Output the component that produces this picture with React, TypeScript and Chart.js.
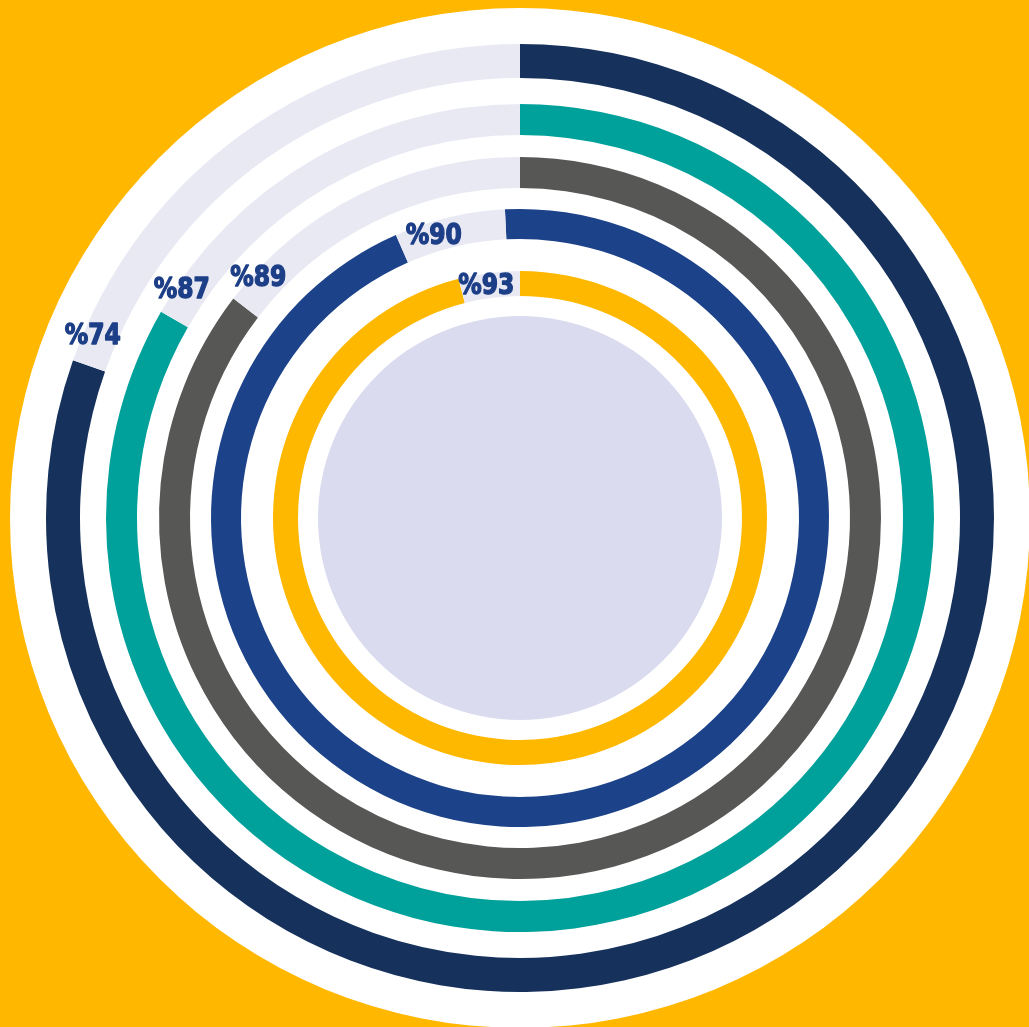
import React, { useEffect, useRef } from "react";
import { Chart, registerables } from "chart.js";

Chart.register(...registerables);

// Ring data (outer → inner)
const ringNames = ["Ring A", "Ring B", "Ring C", "Ring D", "Ring E"];
const labelPercents = [74, 87, 89, 90, 93];
// share of the circle actually filled by each arc, as drawn in the picture
const arcShare = [80.4, 83.3, 85.4, 94.2, 96.0];
// start angle of each arc in degrees (clockwise from 12 o'clock)
const arcStart = [0, 0, 0, -2.8, 0];
const ringColors = ["#16325C", "#00A19A", "#575756", "#1C428A", "#FFB800"];

const TRACK = "#E9E9F4";
const CENTER = "#DADBEF";
const BG = "#FFB700";
const LABEL_COLOR = "#1D3F87";

// ring thickness weights (px) outer → inner: margin, ring, gap, ring, ... , gap, center
const ringWeights = [34, 31, 31, 30, 25];
const gapWeights = [36, 26, 22, 21, 32, 20];
const centerWeight = 202;
const labelRadialNudge = [7, 9, 9, 0, -1];
const labelAlongNudge = [0, 0, 2, 6, -3];

export default function App() {
  const ref = useRef<HTMLCanvasElement | null>(null);

  useEffect(() => {
    if (!ref.current) return;
    const datasets: any[] = [];
    const ringIndex: number[] = [];
    for (let i = 0; i < ringNames.length; i++) {
      datasets.push({
        label: "gap" + i,
        data: [1],
        backgroundColor: ["rgba(0,0,0,0)"],
        borderWidth: 0,
        weight: gapWeights[i],
      });
      ringIndex.push(datasets.length);
      datasets.push({
        label: ringNames[i],
        data: [arcShare[i], 100 - arcShare[i]],
        backgroundColor: [ringColors[i], TRACK],
        borderWidth: 0,
        weight: ringWeights[i],
        rotation: arcStart[i],
      });
    }
    datasets.push({
      label: "gap-last",
      data: [1],
      backgroundColor: ["rgba(0,0,0,0)"],
      borderWidth: 0,
      weight: gapWeights[5],
    });
    datasets.push({
      label: "center",
      data: [1],
      backgroundColor: [CENTER],
      borderWidth: 0,
      weight: centerWeight,
    });

    const bgPlugin = {
      id: "whiteDisc",
      beforeDatasetsDraw(chart: any) {
        const arc = chart.getDatasetMeta(0).data[0];
        if (!arc) return;
        const ctx = chart.ctx;
        ctx.save();
        ctx.beginPath();
        ctx.arc(arc.x, arc.y, arc.outerRadius, 0, Math.PI * 2);
        ctx.fillStyle = "#FFFFFF";
        ctx.fill();
        ctx.restore();
      },
    };

    const labelPlugin = {
      id: "ringLabels",
      afterDatasetsDraw(chart: any) {
        const ctx = chart.ctx;
        ringIndex.forEach((di, i) => {
          const arc = chart.getDatasetMeta(di).data[0];
          if (!arc) return;
          ctx.save();
          ctx.font = "bold 28px 'DejaVu Sans Condensed', 'DejaVu Sans', sans-serif";
          ctx.fillStyle = LABEL_COLOR;
          ctx.strokeStyle = LABEL_COLOR;
          ctx.lineWidth = 1.3;
          ctx.lineJoin = "round";
          ctx.textAlign = "center";
          ctx.textBaseline = "middle";
          const text = "%" + labelPercents[i];
          const sx = 0.93;
          const w = ctx.measureText(text).width * sx;
          const mid = (arc.innerRadius + arc.outerRadius) / 2;
          const a = arc.endAngle + (w / 2 + labelAlongNudge[i]) / mid;
          const r = mid + labelRadialNudge[i];
          const x = arc.x + r * Math.cos(a);
          const y = arc.y + r * Math.sin(a);
          ctx.translate(x, y);
          ctx.scale(sx, 1);
          ctx.fillText(text, 0, 0);
          ctx.strokeText(text, 0, 0);
          ctx.restore();
        });
      },
    };

    const chart = new Chart(ref.current, {
      type: "doughnut",
      data: { labels: ["filled", "rest"], datasets },
      options: {
        responsive: false,
        animation: false,
        devicePixelRatio: 1,
        cutout: 0,
        events: [],
        layout: { padding: 0 },
        plugins: { legend: { display: false }, tooltip: { enabled: false } },
      } as any,
      plugins: [bgPlugin, labelPlugin],
    });
    return () => chart.destroy();
  }, []);

  return (
    <div
      style={{
        position: "fixed",
        inset: 0,
        background: BG,
        overflow: "hidden",
      }}
    >
      <canvas
        ref={ref}
        width={1020}
        height={1020}
        style={{ position: "absolute", left: 10, top: 8, width: 1020, height: 1020 }}
      />
    </div>
  );
}
